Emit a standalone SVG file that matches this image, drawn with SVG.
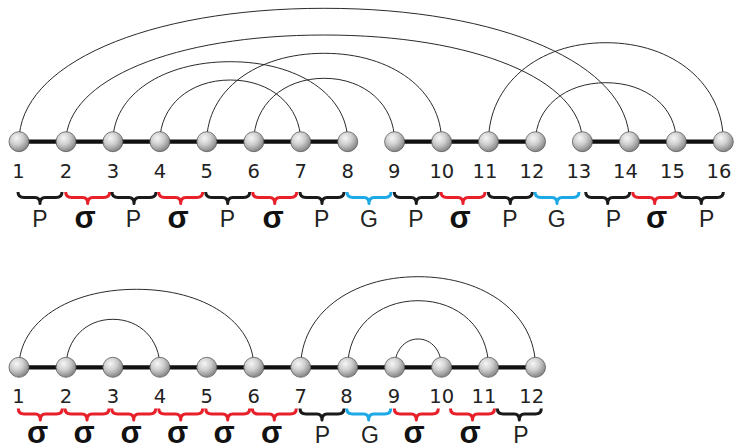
<svg xmlns="http://www.w3.org/2000/svg" width="736" height="446" viewBox="0 0 736 446">
<style>
.arc{fill:none;stroke:#2a2a2a;stroke-width:1}
.bb{stroke:#111;stroke-width:4.2;stroke-linecap:round}
.nd{fill:url(#g);stroke:#5a5a5a;stroke-width:0.8}
.num{font-family:"DejaVu Sans",sans-serif;font-size:19.5px;fill:#222;text-anchor:middle}
.lbl{font-family:"Liberation Sans",Arial,sans-serif;font-size:23px;fill:#222;text-anchor:middle}
.sg{font-family:"Liberation Sans",Arial,sans-serif;font-size:31px;font-weight:bold;fill:#111;text-anchor:middle}
.br{fill:none;stroke-width:3;stroke-linejoin:round}
.k{stroke:#1a1a1a}
.r{stroke:#e8202a}
.b{stroke:#1ca9e6}
</style>
<defs>
<radialGradient id="g" cx="0.38" cy="0.32" r="0.72">
<stop offset="0" stop-color="#f6f6f6"/>
<stop offset="0.45" stop-color="#cfcfcf"/>
<stop offset="1" stop-color="#7e7e7e"/>
</radialGradient>
<path id="brace" d="M0,0 C0,4 2,5.5 6,5.5 L17,5.5 C20,5.5 22,7 22,11.5 C22,7 24,5.5 27,5.5 L38,5.5 C42,5.5 44,4 44,0"/>
</defs>
<g id="connectors">
<path class="arc" d="M19,141.7 C19,64.3 146.5,8.3 324.2,8.3 C501.8,8.3 629.4,64.3 629.4,141.7"/>
<path class="arc" d="M66,141.7 C66,79.8 173.8,35 324.2,35 C474.6,35 582.4,79.8 582.4,141.7"/>
<path class="arc" d="M112.9,141.7 C112.9,95.3 162.1,61.7 230.3,61.7 C298.4,61.7 347.7,95.3 347.7,141.7"/>
<path class="arc" d="M159.9,141.7 C159.9,105.9 189.4,80 230.3,80 C271.1,80 300.7,105.9 300.7,141.7"/>
<path class="arc" d="M206.8,141.7 C206.8,90.4 256,53.3 324.2,53.3 C392.3,53.3 441.6,90.4 441.6,141.7"/>
<path class="arc" d="M253.8,141.7 C253.8,104.9 283.3,78.3 324.2,78.3 C365,78.3 394.6,104.9 394.6,141.7"/>
<path class="arc" d="M488.5,141.7 C488.5,84.4 537.8,42.7 605.9,42.7 C674,42.7 723.3,84.4 723.3,141.7"/>
<path class="arc" d="M535.5,141.7 C535.5,107.5 565,82.7 605.9,82.7 C646.8,82.7 676.3,107.5 676.3,141.7"/>
<path class="arc" d="M19,367.3 C19,322.1 68.3,289.3 136.4,289.3 C204.5,289.3 253.8,322.1 253.8,367.3"/>
<path class="arc" d="M66,367.3 C66,339.5 85.7,319.3 112.9,319.3 C140.1,319.3 159.9,339.5 159.9,367.3"/>
<path class="arc" d="M300.7,367.3 C300.7,314.8 350,276.7 418.1,276.7 C486.2,276.7 535.5,314.8 535.5,367.3"/>
<path class="arc" d="M347.7,367.3 C347.7,328.7 377.2,300.7 418.1,300.7 C459,300.7 488.5,328.7 488.5,367.3"/>
<path class="arc" d="M394.6,367.3 C394.6,350.9 404.4,339 418.1,339 C431.7,339 441.6,350.9 441.6,367.3"/>
<line class="bb" x1="19" y1="141.7" x2="347.7" y2="141.7"/>
<line class="bb" x1="394.6" y1="141.7" x2="535.5" y2="141.7"/>
<line class="bb" x1="582.4" y1="141.7" x2="723.3" y2="141.7"/>
<line class="bb" x1="19" y1="367.3" x2="535.5" y2="367.3"/>
</g>
<g id="top-nodes">
<g id="t1"><circle class="nd" cx="19" cy="141.7" r="10"/><text class="num" x="18.5" y="178.3">1</text></g>
<g id="t2"><circle class="nd" cx="66" cy="141.7" r="10"/><text class="num" x="66" y="178.3">2</text></g>
<g id="t3"><circle class="nd" cx="112.9" cy="141.7" r="10"/><text class="num" x="112.9" y="178.3">3</text></g>
<g id="t4"><circle class="nd" cx="159.9" cy="141.7" r="10"/><text class="num" x="159.9" y="178.3">4</text></g>
<g id="t5"><circle class="nd" cx="206.8" cy="141.7" r="10"/><text class="num" x="206.8" y="178.3">5</text></g>
<g id="t6"><circle class="nd" cx="253.8" cy="141.7" r="10"/><text class="num" x="253.8" y="178.3">6</text></g>
<g id="t7"><circle class="nd" cx="300.7" cy="141.7" r="10"/><text class="num" x="300.7" y="178.3">7</text></g>
<g id="t8"><circle class="nd" cx="347.7" cy="141.7" r="10"/><text class="num" x="347.7" y="178.3">8</text></g>
<g id="t9"><circle class="nd" cx="394.6" cy="141.7" r="10"/><text class="num" x="394.3" y="178.3">9</text></g>
<g id="t10"><circle class="nd" cx="441.6" cy="141.7" r="10"/><text class="num" x="441.8" y="178.3">10</text></g>
<g id="t11"><circle class="nd" cx="488.5" cy="141.7" r="10"/><text class="num" x="485" y="178.3">11</text></g>
<g id="t12"><circle class="nd" cx="535.5" cy="141.7" r="10"/><text class="num" x="532" y="178.3">12</text></g>
<g id="t13"><circle class="nd" cx="582.4" cy="141.7" r="10"/><text class="num" x="578.8" y="178.3">13</text></g>
<g id="t14"><circle class="nd" cx="629.4" cy="141.7" r="10"/><text class="num" x="625.5" y="178.3">14</text></g>
<g id="t15"><circle class="nd" cx="676.3" cy="141.7" r="10"/><text class="num" x="672.5" y="178.3">15</text></g>
<g id="t16"><circle class="nd" cx="723.3" cy="141.7" r="10"/><text class="num" x="719" y="178.3">16</text></g>
</g>
<g id="top-braces">
<use href="#brace" class="br k" x="18" y="192"/>
<use href="#brace" class="br r" x="65.7" y="192"/>
<use href="#brace" class="br k" x="112" y="192"/>
<use href="#brace" class="br r" x="158.7" y="192"/>
<use href="#brace" class="br k" x="205.7" y="192"/>
<use href="#brace" class="br r" x="252.7" y="192"/>
<use href="#brace" class="br k" x="300" y="192"/>
<use href="#brace" class="br b" x="347" y="192"/>
<use href="#brace" class="br k" x="394.3" y="192"/>
<use href="#brace" class="br r" x="441" y="192"/>
<use href="#brace" class="br k" x="488.3" y="192"/>
<use href="#brace" class="br b" x="535" y="192"/>
<use href="#brace" class="br k" x="585.7" y="192"/>
<use href="#brace" class="br r" x="632.7" y="192"/>
<use href="#brace" class="br k" x="679.3" y="192"/>
<text class="lbl" x="40" y="227">P</text>
<text class="sg" x="85" y="228">σ</text>
<text class="lbl" x="133.3" y="227">P</text>
<text class="sg" x="178" y="228">σ</text>
<text class="lbl" x="227.5" y="227">P</text>
<text class="sg" x="273" y="228">σ</text>
<text class="lbl" x="321.7" y="227">P</text>
<text class="lbl" x="369" y="227">G</text>
<text class="lbl" x="416" y="227">P</text>
<text class="sg" x="460" y="228">σ</text>
<text class="lbl" x="510" y="227">P</text>
<text class="lbl" x="556.7" y="227">G</text>
<text class="lbl" x="613.3" y="227">P</text>
<text class="sg" x="656.7" y="228">σ</text>
<text class="lbl" x="706.7" y="227">P</text>
</g>
<g id="bottom-nodes">
<g id="b1"><circle class="nd" cx="19" cy="367.3" r="10"/><text class="num" x="18.5" y="402.5">1</text></g>
<g id="b2"><circle class="nd" cx="66" cy="367.3" r="10"/><text class="num" x="66" y="402.5">2</text></g>
<g id="b3"><circle class="nd" cx="112.9" cy="367.3" r="10"/><text class="num" x="112.9" y="402.5">3</text></g>
<g id="b4"><circle class="nd" cx="159.9" cy="367.3" r="10"/><text class="num" x="159.9" y="402.5">4</text></g>
<g id="b5"><circle class="nd" cx="206.8" cy="367.3" r="10"/><text class="num" x="206.8" y="402.5">5</text></g>
<g id="b6"><circle class="nd" cx="253.8" cy="367.3" r="10"/><text class="num" x="253.8" y="402.5">6</text></g>
<g id="b7"><circle class="nd" cx="300.7" cy="367.3" r="10"/><text class="num" x="300.7" y="402.5">7</text></g>
<g id="b8"><circle class="nd" cx="347.7" cy="367.3" r="10"/><text class="num" x="346.5" y="402.5">8</text></g>
<g id="b9"><circle class="nd" cx="394.6" cy="367.3" r="10"/><text class="num" x="394" y="402.5">9</text></g>
<g id="b10"><circle class="nd" cx="441.6" cy="367.3" r="10"/><text class="num" x="441.7" y="402.5">10</text></g>
<g id="b11"><circle class="nd" cx="488.5" cy="367.3" r="10"/><text class="num" x="484" y="402.5">11</text></g>
<g id="b12"><circle class="nd" cx="535.5" cy="367.3" r="10"/><text class="num" x="531.7" y="402.5">12</text></g>
</g>
<g id="bottom-braces">
<use href="#brace" class="br r" x="18.3" y="408.5"/>
<use href="#brace" class="br r" x="65" y="408.5"/>
<use href="#brace" class="br r" x="111.7" y="408.5"/>
<use href="#brace" class="br r" x="158.7" y="408.5"/>
<use href="#brace" class="br r" x="205.7" y="408.5"/>
<use href="#brace" class="br r" x="252.3" y="408.5"/>
<use href="#brace" class="br k" x="300" y="408.5"/>
<use href="#brace" class="br b" x="346.7" y="408.5"/>
<use href="#brace" class="br r" x="394.3" y="408.5"/>
<use href="#brace" class="br r" x="450.5" y="408.5"/>
<use href="#brace" class="br k" x="497.3" y="408.5"/>
<text class="sg" x="37.5" y="443">σ</text>
<text class="sg" x="84" y="443">σ</text>
<text class="sg" x="131" y="443">σ</text>
<text class="sg" x="177.5" y="443">σ</text>
<text class="sg" x="224" y="443">σ</text>
<text class="sg" x="271.7" y="443">σ</text>
<text class="lbl" x="322.5" y="443">P</text>
<text class="lbl" x="370" y="443">G</text>
<text class="sg" x="414" y="443">σ</text>
<text class="sg" x="470" y="443">σ</text>
<text class="lbl" x="521" y="443">P</text>
</g>
</svg>
